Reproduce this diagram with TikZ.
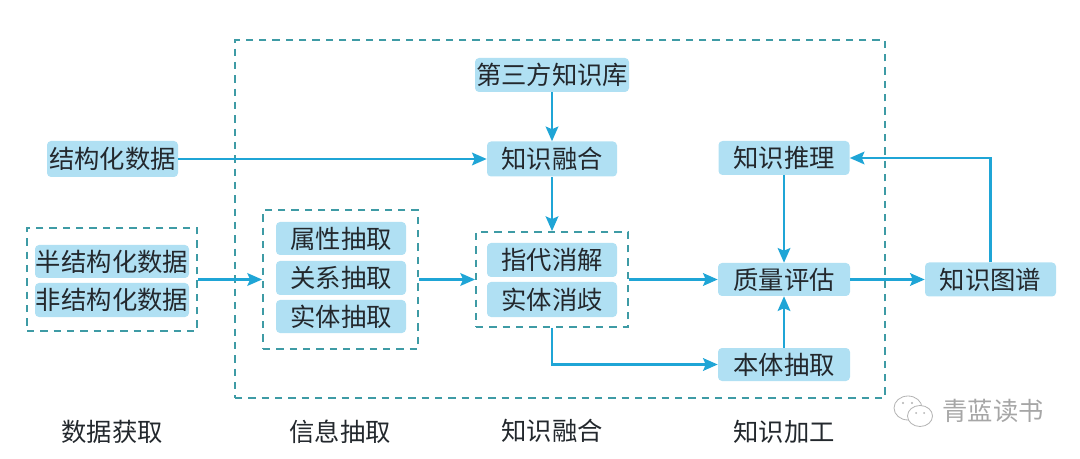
\documentclass[tikz,border=0pt]{standalone}
\usepackage{fontspec}
\setmainfont{Noto Sans CJK SC}
\usepackage{xcolor}
\usetikzlibrary{arrows.meta}
\definecolor{flow_blue}{RGB}{31,165,214}
\definecolor{dash_teal}{RGB}{62,155,165}
\definecolor{box_blue}{RGB}{176,224,243}
\definecolor{text_dark}{RGB}{35,40,45}
\tikzset{
    itembox/.style={fill=box_blue,rounded corners=3pt,text=text_dark,font=\fontsize{19}{19}\selectfont,inner sep=0pt,anchor=center},
    groupbox/.style={draw=dash_teal,line width=1.4pt,dash pattern=on 5.5pt off 4.5pt,inner sep=0pt,anchor=center},
    caption/.style={text=text_dark,font=\fontsize{19}{19}\selectfont,inner sep=0pt},
    flow/.style={draw=flow_blue,line width=1.7pt,-{Stealth[length=11pt,width=9.5pt,inset=2pt]}},
}

\begin{document}
\begin{tikzpicture}[x=0.75pt,y=-0.75pt]

                    \useasboundingbox (0,0) rectangle (1080,459);

                    % dashed groups
                    \foreach \gname/\gx/\gy/\gw/\gh in {outer/560/219/650/358,source/112/279.5/170/103,extract/340.5/279.5/155/139,resolve/552/279.5/152/95}
                    \node[groupbox,minimum width=0.75*\gw pt,minimum height=0.75*\gh pt] (\gname) at (\gx,\gy) {};

                    % boxes
                    \foreach \bname/\bx/\by/\bw/\bh/\btext in {
                        jiegou/112.5/159/131/36/结构化数据,
                        disanfang/552/75/154/34/第三方知识库,
                        ronghe/552/159/130/35/知识融合,
                        tuili/784/158/131/34/知识推理,
                        zhiliang/784/279.5/132/33/质量评估,
                        tupu/990.5/279.5/131/34/知识图谱,
                        benti/784/364.5/132/33/本体抽取,
                        banjiegou/112/261.5/154/33/半结构化数据,
                        feijiegou/112/300/154/34/非结构化数据,
                        shuxing/341/238.5/130/33/属性抽取,
                        guanxi/341/278/130/34/关系抽取,
                        shiti/341/316.5/130/33/实体抽取,
                        zhidai/552/260/130/34/指代消解,
                        xiaoqi/552/299.5/130/35/实体消歧}
                    \node[itembox,minimum width=0.75*\bw pt,minimum height=0.75*\bh pt] (\bname) at (\bx,\by) {\btext};

                    % stage names
                    \node[caption] (stageA) at (112,432) {数据获取};
                    \node[caption] (stageB) at (340,432) {信息抽取};
                    \node[caption] (stageC) at (552,431) {知识融合};
                    \node[caption] (stageD) at (784,432) {知识加工};

                    % arrows
                    \draw[flow] (jiegou) -- (ronghe);
                    \draw[flow] (disanfang) -- (ronghe);
                    \draw[flow] (ronghe) -- (resolve);
                    \draw[flow] (source) -- (extract);
                    \draw[flow] (extract) -- (resolve);
                    \draw[flow] (resolve) -- (zhiliang);
                    \draw[flow] (zhiliang) -- (tupu);
                    \draw[flow] (tuili) -- (zhiliang);
                    \draw[flow] (benti) -- (zhiliang);
                    \draw[flow] (tupu.north) |- (tuili.east);
                    \draw[flow] (resolve.south) |- (benti.west);

                    % watermark
                    \draw[gray!60,line width=0.6pt,fill=white] (908,408) ellipse (14 and 12);
                    \draw[gray!60,line width=0.6pt,fill=white] (920,416) ellipse (12.5 and 10.5);
                    \fill[gray!60] (903,403) circle (1.2) (912,403) circle (1.2) (916,413) circle (1) (924,413) circle (1);
                    \node[text=gray!70,font=\fontsize{19}{19}\selectfont,inner sep=0pt] (mark) at (993,411) {青蓝读书};
                \end{tikzpicture}
\end{document}
